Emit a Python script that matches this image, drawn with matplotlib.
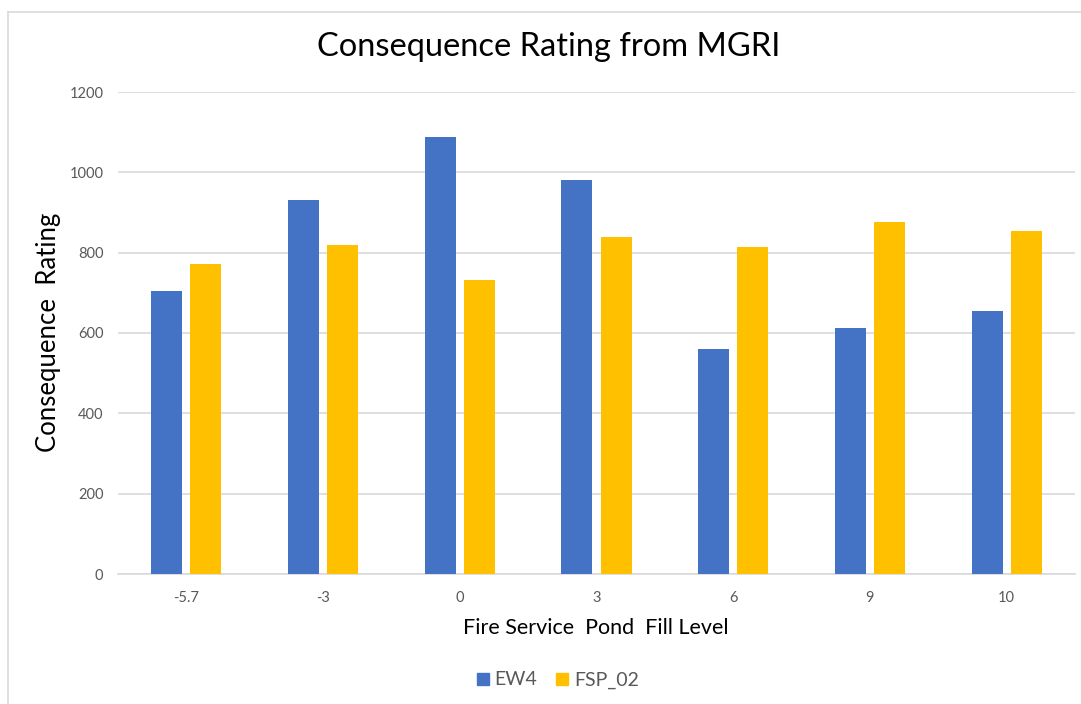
import matplotlib
matplotlib.use("Agg")
import matplotlib.pyplot as plt
import numpy as np
from matplotlib.lines import Line2D

categories = ["-5.7", "-3", "0", "3", "6", "9", "10"]
ew4 = [705, 932, 1087, 980, 560, 612, 656]
fsp_02 = [771, 820, 731, 840, 815, 877, 853]
series_names = ["EW4", "FSP_02"]
colors = ["#4472C4", "#FFC000"]

plt.rcParams['font.family'] = ['Lato', 'DejaVu Sans']

fig = plt.figure(figsize=(10.81, 7.04), dpi=100)
ax = fig.add_axes([118/1081, 1-574/704, (1075-118)/1081, (574-92)/704])

x = np.arange(len(categories))
w = 0.227
off = 0.143
ax.bar(x - off, ew4, width=w, color=colors[0], label=series_names[0], zorder=3)
ax.bar(x + off, fsp_02, width=w, color=colors[1], label=series_names[1], zorder=3)

ax.set_xlim(-0.5, len(categories) - 0.5)
ax.set_ylim(0, 1200)
ax.set_yticks(range(0, 1201, 200))
ax.set_xticks(x)
ax.set_xticklabels(categories)
ax.yaxis.grid(True, color="#D9D9D9", linewidth=1.2, zorder=0)
ax.set_axisbelow(True)
for s in ["top", "right", "left"]:
    ax.spines[s].set_visible(False)
ax.spines["bottom"].set_color("#D9D9D9")
ax.spines["bottom"].set_linewidth(1.2)
ax.tick_params(axis="both", length=0, labelsize=10.5, labelcolor="#595959")
ax.tick_params(axis="y", pad=10.5)
ax.tick_params(axis="x", pad=12)

fig.text(549/1081, 1-47/704, "Consequence Rating from MGRI", ha="center", va="center",
         fontsize=23.5, color="#000000")
fig.text(49/1081, 1-332/704, "Consequence  Rating", ha="center", va="center",
         rotation=90, fontsize=18.5, color="#000000")
fig.text(596/1081, 1-628/704, "Fire Service  Pond  Fill Level", ha="center", va="center",
         fontsize=15.5, color="#000000")

handles = [Line2D([0], [0], marker="s", linestyle="", markersize=9,
                  markerfacecolor=c, markeredgecolor=c) for c in colors]
fig.legend(handles, series_names, loc="center", bbox_to_anchor=(557/1081, 1-680/704),
           ncol=2, frameon=False, fontsize=14, labelcolor="#595959",
           handletextpad=0.2, columnspacing=0.9, handlelength=0.8)

# outer border (top and left visible)
fig.add_artist(Line2D([8/1081, 8/1081], [0, 1-12/704], transform=fig.transFigure,
                      color="#D9D9D9", linewidth=1.2))
fig.add_artist(Line2D([8/1081, 1], [1-12/704, 1-12/704], transform=fig.transFigure,
                      color="#D9D9D9", linewidth=1.2))

fig.savefig("out.png", dpi=100)
